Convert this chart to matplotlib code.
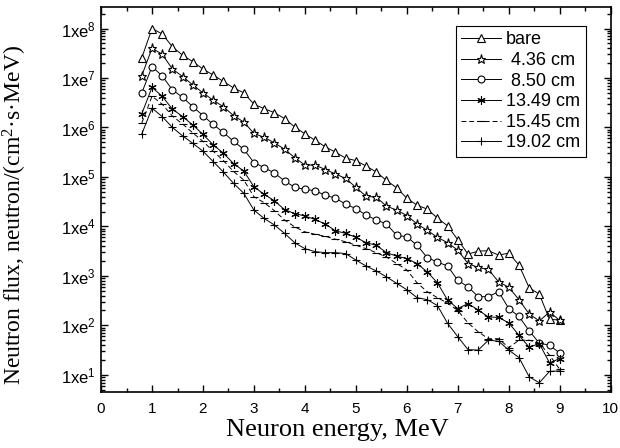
import numpy as np
import matplotlib
matplotlib.use('Agg')
import matplotlib.pyplot as plt
from matplotlib.ticker import LogLocator, FixedLocator, MultipleLocator, FuncFormatter, NullFormatter

# Neutron energy grid, MeV
energy = [0.8, 1.0, 1.2, 1.4, 1.6, 1.8, 2.0, 2.2, 2.4, 2.6, 2.8,
          3.0, 3.2, 3.4, 3.6, 3.8, 4.0, 4.2, 4.4, 4.6, 4.8,
          5.0, 5.2, 5.4, 5.6, 5.8, 6.0, 6.2, 6.4, 6.6, 6.8,
          7.0, 7.2, 7.4, 7.6, 7.8, 8.0, 8.2, 8.4, 8.6, 8.8, 9.0]

# log10 of neutron flux
bare = [7.41, 8.00, 7.89, 7.63, 7.46, 7.33, 7.18, 7.06, 6.93, 6.80, 6.70,
        6.47, 6.38, 6.30, 6.18, 6.01, 5.87, 5.74, 5.61, 5.50, 5.38,
        5.33, 5.22, 5.10, 4.93, 4.78, 4.57, 4.43, 4.35, 4.17, 4.01,
        3.73, 3.44, 3.50, 3.51, 3.42, 3.46, 3.22, 2.76, 2.63, 2.12, 2.11]
cm_4_36 = [7.05, 7.60, 7.48, 7.18, 7.03, 6.86, 6.70, 6.55, 6.42, 6.24, 6.11,
           5.88, 5.80, 5.69, 5.56, 5.39, 5.24, 5.24, 5.15, 5.06, 4.97,
           4.79, 4.61, 4.59, 4.41, 4.33, 4.22, 4.05, 3.92, 3.78, 3.67,
           3.52, 3.25, 3.17, 3.13, 2.88, 2.77, 2.52, 2.23, 2.09, 2.27, 2.10]
cm_8_50 = [6.70, 7.23, 7.04, 6.76, 6.61, 6.42, 6.24, 6.06, 5.90, 5.72, 5.56,
           5.29, 5.19, 5.08, 4.92, 4.79, 4.75, 4.72, 4.63, 4.57, 4.45,
           4.36, 4.23, 4.13, 4.05, 3.82, 3.79, 3.62, 3.37, 3.28, 3.20,
           2.91, 2.78, 2.58, 2.58, 2.68, 2.34, 2.18, 1.89, 1.64, 1.60, 1.44]
cm_13_49 = [6.28, 6.81, 6.63, 6.37, 6.22, 6.05, 5.86, 5.65, 5.48, 5.27, 5.12,
            4.80, 4.65, 4.52, 4.34, 4.26, 4.21, 4.14, 4.05, 3.91, 3.86,
            3.78, 3.67, 3.62, 3.47, 3.40, 3.35, 3.25, 3.08, 2.86, 2.51,
            2.34, 2.44, 2.31, 2.17, 2.16, 2.05, 1.80, 1.56, 1.63, 1.24, 1.33]
cm_15_45 = [6.09, 6.63, 6.47, 6.23, 6.07, 5.89, 5.72, 5.52, 5.33, 5.11, 4.94,
            4.60, 4.48, 4.32, 4.13, 3.99, 3.89, 3.84, 3.80, 3.74, 3.69,
            3.62, 3.55, 3.47, 3.38, 3.25, 3.12, 2.86, 2.68, 2.56, 2.45,
            2.30, 2.05, 1.87, 1.73, 1.73, 1.55, 1.70, 1.70, 1.64, 1.40, 1.11]
cm_19_02 = [5.87, 6.39, 6.22, 6.00, 5.83, 5.68, 5.52, 5.31, 5.10, 4.87, 4.67,
            4.33, 4.16, 4.03, 3.86, 3.67, 3.55, 3.49, 3.47, 3.47, 3.45,
            3.32, 3.20, 3.10, 2.98, 2.85, 2.72, 2.56, 2.52, 2.40, 2.04,
            1.77, 1.51, 1.50, 1.70, 1.68, 1.50, 1.35, 0.96, 0.84, 1.07, 1.08]

labels = ['bare', ' 4.36 cm', ' 8.50 cm', '13.49 cm', '15.45 cm', '19.02 cm']

plt.rcParams['font.family'] = ['Liberation Sans', 'DejaVu Sans']
plt.rcParams['mathtext.default'] = 'regular'

fig = plt.figure(figsize=(6.2, 4.48), dpi=100)
ax = fig.add_axes([0.163, 0.125, 0.822, 0.859])

series = [bare, cm_4_36, cm_8_50, cm_13_49, cm_15_45, cm_19_02]
markers = ['^', '*', 'o', (6, 2, 0), '_', '+']
sizes = [6, 6.5, 5, 6, 5.5, 5.5]
styles = ['-', '-', '-', '-', (0, (5, 3)), '-']

for vals, lab, m, ms, ls in zip(series, labels, markers, sizes, styles):
    ax.plot(energy, np.power(10.0, vals), color='black', linewidth=0.7,
            linestyle=ls, marker=m, markersize=ms, markerfacecolor='white',
            markeredgecolor='black', markeredgewidth=0.8, label=lab)

ax.set_yscale('log')
ax.set_xlim(0, 10)
ax.set_ylim(4.5, 2.7e8)

ax.xaxis.set_major_locator(MultipleLocator(1))
ax.xaxis.set_minor_locator(MultipleLocator(0.5))
ax.yaxis.set_major_locator(FixedLocator([1e1, 1e2, 1e3, 1e4, 1e5, 1e6, 1e7, 1e8]))
ax.yaxis.set_minor_locator(LogLocator(base=10, subs=np.arange(2, 10), numticks=20))
ax.yaxis.set_major_formatter(FuncFormatter(lambda v, p: '1xe$^{%d}$' % round(np.log10(v))))
ax.yaxis.set_minor_formatter(NullFormatter())

ax.tick_params(which='both', direction='in', top=True, right=True, width=1.0)
ax.tick_params(which='major', length=5)
ax.tick_params(which='minor', length=3)
ax.tick_params(axis='x', labelsize=11, pad=7)
ax.tick_params(axis='y', labelsize=12)
for sp in ax.spines.values():
    sp.set_linewidth(1.2)

ax.set_xlabel('Neuron energy, MeV', family='Liberation Serif', fontsize=19)
ax.xaxis.set_label_coords(0.463, -0.07)
ax.set_ylabel('Neutron flux, neutron/(cm$^2$·s·MeV)', family='Liberation Serif', fontsize=17)
ax.yaxis.set_label_coords(-0.142, 0.46)

leg = ax.legend(loc='upper right', bbox_to_anchor=(0.951, 0.951), borderaxespad=0,
                fontsize=13, fancybox=False, framealpha=1, edgecolor='black',
                handlelength=2.2, handletextpad=0.3, labelspacing=0.2, borderpad=0.3)
leg.get_frame().set_linewidth(0.8)

plt.savefig('out.png', dpi=100)
